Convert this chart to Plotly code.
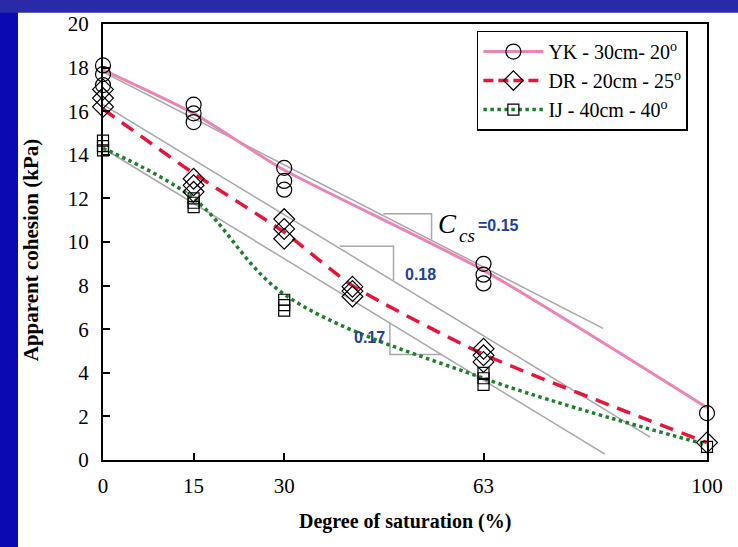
import plotly.graph_objects as go

# ---- measured points ----
yk_x = [0, 0, 0, 15, 15, 15, 30, 30, 30, 63, 63, 63, 100]
yk_y = [18.1, 17.7, 17.2, 16.3, 15.9, 15.5, 13.4, 12.8, 12.4, 9.0, 8.5, 8.1, 2.15]
dr_x = [0, 0, 0, 15, 15, 15, 30, 30, 30, 41.3, 41.3, 41.3, 63, 63, 63, 100]
dr_y = [17.0, 16.6, 16.2, 12.9, 12.6, 12.3, 11.05, 10.6, 10.15, 7.95, 7.75, 7.5, 5.1, 4.8, 4.5, 0.8]
ij_x = [0, 0, 0, 15, 15, 15, 30, 30, 30, 63, 63, 63, 100]
ij_y = [14.65, 14.4, 14.2, 12.0, 11.8, 11.6, 7.35, 7.1, 6.85, 4.0, 3.75, 3.45, 0.6]

# ---- trend curves ----
yk_fit_x = [0, 15, 30, 63, 100]
yk_fit_y = [17.9, 15.9, 13.3, 8.7, 2.4]
dr_fit_x = [0, 15, 30, 41.3, 63, 100]
dr_fit_y = [16.1, 13.15, 10.45, 8.0, 4.85, 0.8]
ij_fit_x = [0, 15, 30, 63, 100]
ij_fit_y = [14.3, 12.0, 7.6, 3.75, 0.7]

# ---- slope guide lines (start/end) ----
guide_x0 = [0, 0, 0]
guide_y0 = [17.8, 16.3, 14.3]
guide_x1 = [82.8, 90.6, 83.1]
guide_y1 = [6.04, 1.05, 0.27]

# ---- slope triangles ----
tri1_x = [46.4, 54.4, 54.4]
tri1_y = [11.3, 11.3, 10.1]
tri2_x = [39.2, 48.1, 48.1]
tri2_y = [9.8, 9.8, 8.25]
tri3_x = [47.5, 47.5, 56.1]
tri3_y = [6.27, 4.84, 4.84]

x_ticks = [0, 15, 30, 63, 100]
names = ["YK - 30cm- 20<sup>o</sup>", "DR - 20cm - 25<sup>o</sup>", "IJ - 40cm - 40<sup>o</sup>"]

PINK = "#EC84B6"
RED = "#E8143C"
GREEN = "#1E7F2A"
GRAY = "#A8A8A8"
BLUE_TXT = "#22409A"
SERIF = "Times New Roman, Liberation Serif, serif"
SANS = "Arial, Liberation Sans, sans-serif"

fig = go.Figure()

# guide lines
for a, b, c, d in zip(guide_x0, guide_y0, guide_x1, guide_y1):
    fig.add_trace(go.Scatter(x=[a, c], y=[b, d], mode="lines",
                             line=dict(color=GRAY, width=1.5), showlegend=False, hoverinfo="skip"))
for tx, ty in [(tri1_x, tri1_y), (tri2_x, tri2_y), (tri3_x, tri3_y)]:
    fig.add_trace(go.Scatter(x=tx, y=ty, mode="lines",
                             line=dict(color=GRAY, width=1.5), showlegend=False, hoverinfo="skip"))

# trend curves
fig.add_trace(go.Scatter(x=yk_fit_x, y=yk_fit_y, mode="lines", line=dict(color=PINK, width=3, shape="spline", smoothing=0.6),
                         showlegend=False, hoverinfo="skip"))
fig.add_trace(go.Scatter(x=dr_fit_x, y=dr_fit_y, mode="lines",
                         line=dict(color=RED, width=3.5, dash="14px,9px", shape="spline", smoothing=0.6),
                         showlegend=False, hoverinfo="skip"))
fig.add_trace(go.Scatter(x=ij_fit_x, y=ij_fit_y, mode="lines",
                         line=dict(color=GREEN, width=3.5, dash="dot", shape="spline", smoothing=1.0),
                         showlegend=False, hoverinfo="skip"))

# markers
mk_line = dict(color="black", width=1.2)
fig.add_trace(go.Scatter(x=yk_x, y=yk_y, mode="markers", cliponaxis=False, showlegend=False,
                         marker=dict(symbol="circle-open", size=15, color="black", line=mk_line)))
fig.add_trace(go.Scatter(x=dr_x, y=dr_y, mode="markers", cliponaxis=False, showlegend=False,
                         marker=dict(symbol="diamond-open", size=16, color="black", line=mk_line)))
fig.add_trace(go.Scatter(x=ij_x, y=ij_y, mode="markers", cliponaxis=False, showlegend=False,
                         marker=dict(symbol="square-open", size=11, color="black", line=mk_line)))

# legend entries
fig.add_trace(go.Scatter(x=[None], y=[None], mode="lines+markers", name=names[0],
                         line=dict(color=PINK, width=3),
                         marker=dict(symbol="circle-open", size=15, color="black", line=mk_line)))
fig.add_trace(go.Scatter(x=[None], y=[None], mode="lines+markers", name=names[1],
                         line=dict(color=RED, width=3.5, dash="10px,5px"),
                         marker=dict(symbol="diamond-open", size=15, color="black", line=mk_line)))
fig.add_trace(go.Scatter(x=[None], y=[None], mode="lines+markers", name=names[2],
                         line=dict(color=GREEN, width=3.5, dash="dot"),
                         marker=dict(symbol="square-open", size=11, color="black", line=mk_line)))

annotations = [
    dict(x=57.1, y=10.83, xref="x", yref="y", text="<i>C</i>", showarrow=False,
         font=dict(family=SERIF, size=27, color="black")),
    dict(x=60.3, y=10.3, xref="x", yref="y", text="<i>cs</i>", showarrow=False,
         font=dict(family=SERIF, size=19, color="black")),
    dict(x=65.4, y=10.78, xref="x", yref="y", text="<b>=0.15</b>", showarrow=False,
         font=dict(family=SANS, size=16, color=BLUE_TXT)),
    dict(x=52.5, y=8.49, xref="x", yref="y", text="<b>0.18</b>", showarrow=False,
         font=dict(family=SANS, size=16, color=BLUE_TXT)),
    dict(x=44.2, y=5.64, xref="x", yref="y", text="<b>0.17</b>", showarrow=False,
         font=dict(family=SANS, size=16, color=BLUE_TXT)),
    dict(x=-0.12, y=0.48, xref="paper", yref="paper", xanchor="center", yanchor="middle",
         text="<b>Apparent cohesion (kPa)</b>",
         textangle=-90, showarrow=False, font=dict(family=SERIF, size=21, color="black")),
    dict(x=0.5, y=-0.142, xref="paper", yref="paper", xanchor="center", yanchor="middle",
         text="<b>Degree of saturation (%)</b>",
         showarrow=False, font=dict(family=SERIF, size=20, color="black")),
]

shapes = [
    dict(type="rect", xref="paper", yref="paper", x0=-0.25, x1=-0.1407, y0=-0.3, y1=1.2,
         fillcolor="#0A0AB2", line=dict(width=0), layer="below"),
    dict(type="rect", xref="paper", yref="paper", x0=-0.25, x1=1.2, y0=1.026, y1=1.2,
         fillcolor="#2A2AA6", line=dict(width=0), layer="below"),
]

fig.update_layout(
    width=738, height=547,
    margin=dict(l=103, r=31, t=17, b=87),
    paper_bgcolor="white", plot_bgcolor="white",
    font=dict(family=SERIF, color="black"),
    annotations=annotations, shapes=shapes,
    legend=dict(x=0.619, y=0.985, xanchor="left", yanchor="top",
                bordercolor="black", borderwidth=1.5, bgcolor="white",
                font=dict(family=SERIF, size=20, color="black"), itemwidth=60),
    xaxis=dict(range=[0, 100], tickvals=x_ticks, ticktext=[str(v) for v in x_ticks],
               ticks="inside", ticklen=7, tickwidth=2, tickcolor="black",
               showline=True, linecolor="black", linewidth=2, mirror=True,
               showgrid=False, zeroline=False, ticklabelstandoff=6,
               tickfont=dict(family=SERIF, size=21, color="black")),
    yaxis=dict(range=[0, 20], dtick=2, ticks="inside", ticklen=7, tickwidth=2, tickcolor="black",
               showline=True, linecolor="black", linewidth=2, mirror=True,
               showgrid=False, zeroline=False, ticklabelstandoff=8,
               tickfont=dict(family=SERIF, size=21, color="black")),
)

fig.write_html("out.html", config={"displayModeBar": False},
               post_script="document.body.style.margin='0';document.body.style.padding='0';")
